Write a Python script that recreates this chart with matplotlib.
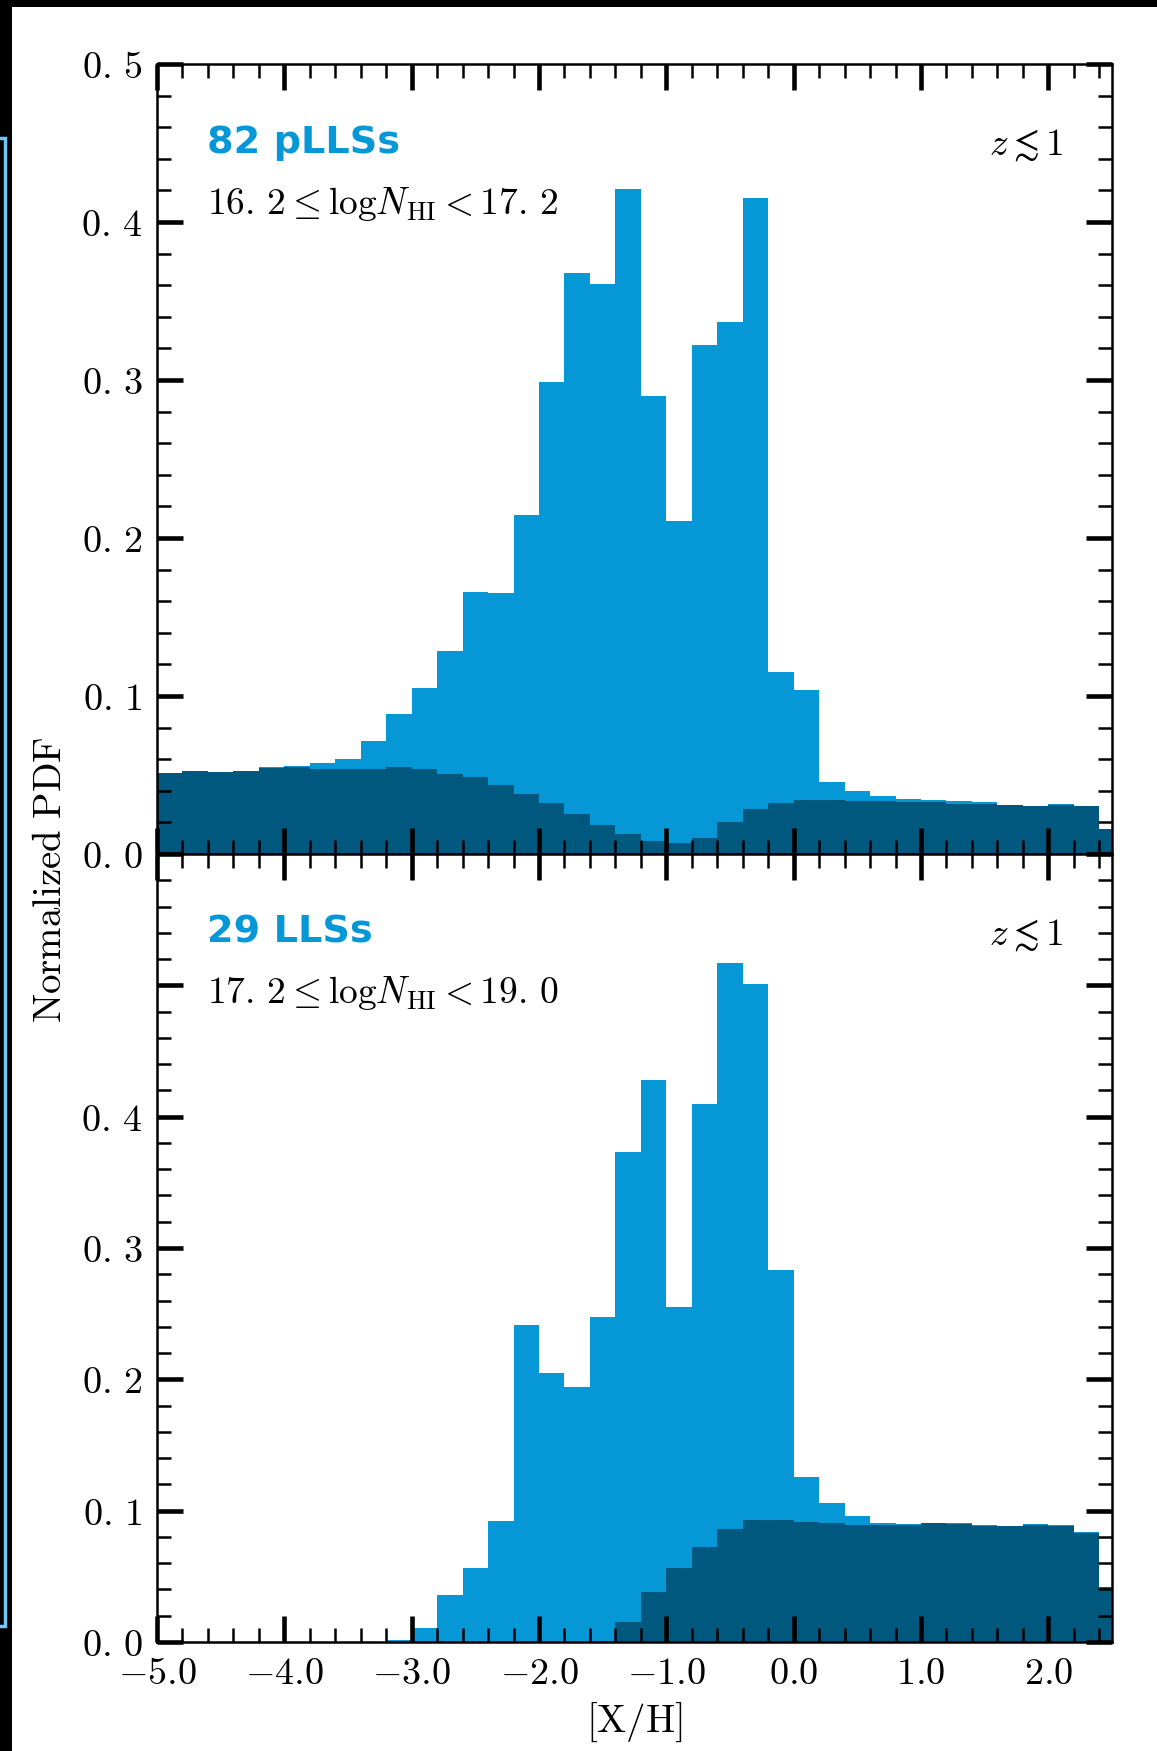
import numpy as np
import matplotlib
matplotlib.use('Agg')
import matplotlib.pyplot as plt
from matplotlib.ticker import MultipleLocator, FixedLocator, FuncFormatter
from matplotlib.patches import Rectangle

plt.rcParams['mathtext.fontset'] = 'cm'

# metallicity bins: 0.2 dex wide, starting at [X/H] = -5.0
bin_start = -5.0
bin_width = 0.2

# pLLS sample (16.2 <= log NHI < 17.2): total PDF and the low-constraint part
pll_total = [0.0515, 0.0528, 0.0520, 0.0528, 0.0548, 0.0555, 0.0574, 0.0603,
             0.0717, 0.0885, 0.1050, 0.1285, 0.1660, 0.1655, 0.2147, 0.2990,
             0.3680, 0.3610, 0.4210, 0.2900, 0.2110, 0.3220, 0.3370, 0.4155,
             0.1150, 0.1040, 0.0458, 0.0396, 0.0369, 0.0350, 0.0340, 0.0333,
             0.0327, 0.0312, 0.0305, 0.0315, 0.0305, 0.0160]
pll_limits = [0.0510, 0.0525, 0.0517, 0.0525, 0.0542, 0.0549, 0.0536, 0.0536,
              0.0540, 0.0549, 0.0536, 0.0506, 0.0489, 0.0437, 0.0380, 0.0320,
              0.0250, 0.0185, 0.0125, 0.0083, 0.0067, 0.0104, 0.0204, 0.0285,
              0.0323, 0.0340, 0.0340, 0.0337, 0.0333, 0.0327, 0.0327, 0.0319,
              0.0317, 0.0308, 0.0302, 0.0312, 0.0302, 0.0156]

# LLS sample (17.2 <= log NHI < 19.0)
lls_total = [0.0, 0.0, 0.0, 0.0, 0.0, 0.0, 0.0, 0.0,
             0.0, 0.0015, 0.0110, 0.0355, 0.0565, 0.0920, 0.2410, 0.2050,
             0.1940, 0.2475, 0.3730, 0.4280, 0.2550, 0.4100, 0.5170, 0.5010,
             0.2830, 0.1260, 0.1060, 0.0957, 0.0904, 0.0898, 0.0908, 0.0903,
             0.0888, 0.0886, 0.0898, 0.0888, 0.0834, 0.0420]
lls_limits = [0.0, 0.0, 0.0, 0.0, 0.0, 0.0, 0.0, 0.0,
              0.0, 0.0, 0.0, 0.0, 0.0, 0.0, 0.0, 0.0,
              0.0, 0.0010, 0.0152, 0.0380, 0.0566, 0.0720, 0.0860, 0.0930,
              0.0927, 0.0917, 0.0907, 0.0894, 0.0889, 0.0894, 0.0904, 0.0899,
              0.0884, 0.0882, 0.0894, 0.0884, 0.0830, 0.0420]

samples = ['82 pLLSs', '29 LLSs']
nhi_ranges = [r'$16.\,2 \leq \mathrm{log}N_{\rm HI} < 17.\,2$',
              r'$17.\,2 \leq \mathrm{log}N_{\rm HI} < 19.\,0$']
redshift_label = r'$z \lesssim 1$'

x_major = [-5.0, -4.0, -3.0, -2.0, -1.0, 0.0, 1.0, 2.0]
top_yticks = [0.0, 0.1, 0.2, 0.3, 0.4, 0.5]
bottom_yticks = [0.0, 0.1, 0.2, 0.3, 0.4, 0.5, 0.6]
bottom_ylabeled = [0.0, 0.1, 0.2, 0.3, 0.4]

light = '#0698d6'
dark = '#01587e'

W, H = 1157, 1751
fig = plt.figure(figsize=(W / 100, H / 100), dpi=100)
fig.patch.set_facecolor('white')

ax_top = fig.add_axes([157 / W, 1 - 854 / H, 955 / W, 790 / H])
ax_bot = fig.add_axes([157 / W, 1 - 1642 / H, 955 / W, 788 / H])

edges = bin_start + bin_width * np.arange(len(pll_total) + 1)


def y_fmt(v, pos):
    s = '%.1f' % v
    a, b = s.split('.')
    return r'$%s.\,%s$' % (a, b)


def y_fmt_bottom(v, pos):
    if round(v, 2) not in bottom_ylabeled:
        return ''
    return y_fmt(v, pos)


for ax, tot, lim, name, nhi, yt, fmt in [
        (ax_top, pll_total, pll_limits, samples[0], nhi_ranges[0], top_yticks, y_fmt),
        (ax_bot, lls_total, lls_limits, samples[1], nhi_ranges[1], bottom_yticks, y_fmt_bottom)]:
    ax.stairs(tot, edges, fill=True, color=light, lw=0)
    ax.stairs(lim, edges, fill=True, color=dark, lw=0)

    ax.set_xlim(-5.0, 2.5)
    ax.set_ylim(yt[0], yt[-1])
    ax.xaxis.set_major_locator(FixedLocator(x_major))
    ax.xaxis.set_minor_locator(MultipleLocator(0.2))
    ax.yaxis.set_major_locator(FixedLocator(yt))
    ax.yaxis.set_minor_locator(MultipleLocator(0.02))
    ax.yaxis.set_major_formatter(FuncFormatter(fmt))
    ax.xaxis.set_major_formatter(FuncFormatter(lambda v, p: r'$%.1f$' % v))

    ax.tick_params(which='both', direction='in', top=True, right=True,
                   labelsize=27.5, pad=10)
    ax.tick_params(which='major', length=19, width=3.3)
    ax.tick_params(which='minor', length=10, width=1.8)
    for sp in ax.spines.values():
        sp.set_linewidth(1.8)

    ax.text(0.052, 0.90, name, transform=ax.transAxes, fontsize=27.5,
            fontweight='bold', color=light, va='center', ha='left',
            family='DejaVu Sans')
    ax.text(0.052, 0.823, nhi, transform=ax.transAxes, fontsize=27,
            va='center', ha='left')
    ax.text(0.949, 0.897, redshift_label, transform=ax.transAxes, fontsize=27,
            va='center', ha='right')

ax_top.tick_params(labelbottom=False)

fig.text(50 / W, 1 - 880 / H, r'$\mathrm{Normalized\ PDF}$', rotation=90,
         ha='center', va='center', fontsize=28)
fig.text(634 / W, 1 - 1722 / H, r'$[\mathrm{X/H}]$', ha='center',
         va='center', fontsize=28)

# dark frame on the top and left edges, with the edge of the neighbouring panel
fig.add_artist(Rectangle((0, 0), 12 / W, 1, transform=fig.transFigure,
                         facecolor='black', edgecolor='none'))
fig.add_artist(Rectangle((0, 1 - 7 / H), 1, 7 / H, transform=fig.transFigure,
                         facecolor='black', edgecolor='none'))
fig.add_artist(Rectangle((-10 / W, 1 - 1626 / H), 15 / W, (1626 - 138) / H,
                         transform=fig.transFigure, facecolor='none',
                         edgecolor='#6ec8f2', lw=2.5))

fig.savefig('out.png', dpi=100)
